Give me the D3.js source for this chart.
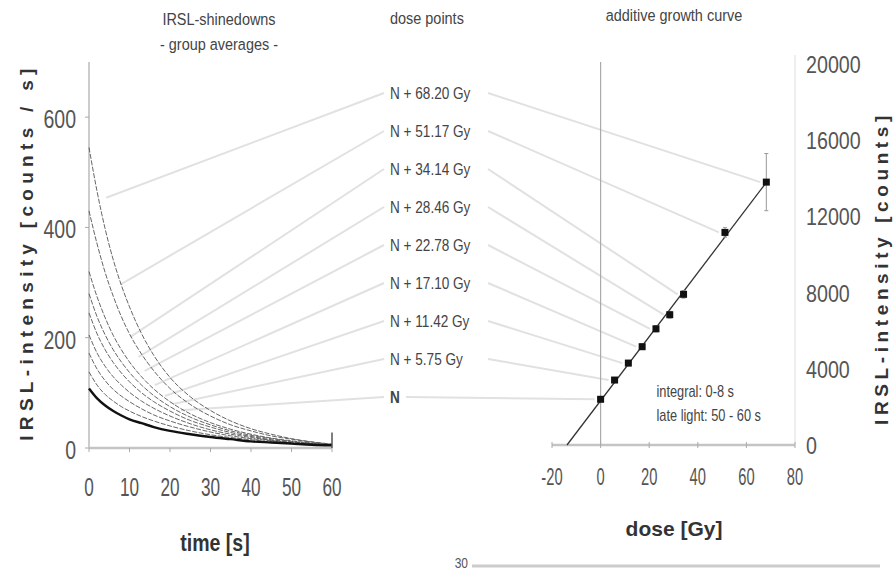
<!DOCTYPE html>
<html><head><meta charset="utf-8">
<script src="https://cdn.jsdelivr.net/npm/d3@7"></script>
<style>
body{margin:0;background:#fff;}
svg{display:block;}
text{font-family:"Liberation Sans",Arial,sans-serif;}
</style></head>
<body>
<svg id="c" width="894" height="570"></svg>
<script>
// ---------- data ----------
const times = [0, 2, 4, 6, 8, 10, 13, 16, 20, 25, 30, 35, 40, 45, 50, 55, 60];
const doseLabels = ["N + 68.20 Gy","N + 51.17 Gy","N + 34.14 Gy","N + 28.46 Gy","N + 22.78 Gy","N + 17.10 Gy","N + 11.42 Gy","N + 5.75 Gy","N"];
const doses = [68.20, 51.17, 34.14, 28.46, 22.78, 17.10, 11.42, 5.75, 0];
const shine_68 = [545,465,397,341,295,256,207,168,128,93,68,49,35,25,17,11,7];
const shine_51 = [430,370,318,275,238,207,170,140,108,79,58,42,31,22,16,11,7];
const shine_34 = [320,274,236,204,178,156,129,107,84,62,46,34,25,18,13,9,6];
const shine_28 = [280,238,205,178,156,137,114,95,75,56,42,31,23,17,12,8,6];
const shine_22 = [245,207,178,155,136,120,100,84,67,50,38,28,21,15,11,8,5];
const shine_17 = [205,172,148,129,114,101,85,72,58,44,33,25,19,14,10,7,5];
const shine_11 = [172,143,122,106,94,84,71,60,49,38,29,22,17,13,9,7,5];
const shine_5  = [138,114,97,85,75,67,57,49,40,31,24,19,15,11,8,6,5];
const shine_N  = [108,90,77,67,59,52,45,38,31,25,20,16,12,10,8,6,5];
const shineSeries = [shine_68, shine_51, shine_34, shine_28, shine_22, shine_17, shine_11, shine_5, shine_N];
const intensity = [13800, 11160, 7910, 6840, 6100, 5160, 4300, 3410, 2400];
const intensityErr = [1500, 250, 200, 180, 160, 150, 140, 130, 120];
const timeTicks = [0,10,20,30,40,50,60];
const leftYTicks = [0,200,400,600];
const doseTicks = [-20,0,20,40,60,80];
const rightYTicks = [0,4000,8000,12000,16000,20000];
const connectTime = [3.5, 7, 9.5, 11.5, 13, 15.5, 18, 20, 22];

// ---------- layout ----------
const svg = d3.select("#c");
const xL = d3.scaleLinear().domain([0,60]).range([89,332]);
const yL = d3.scaleLinear().domain([0,700]).range([448,62]);
const xR = d3.scaleLinear().domain([-20,80]).range([552,795]);
const yR = d3.scaleLinear().domain([0,20000]).range([445,64]);
const labelX = 390, labelY = d3.scaleLinear().domain([0,8]).range([93,397]);

const tickCol = "#555";
function ctext(x, y, str, size, sx, anchor, fill, weight){
  const g = svg.append("g").attr("transform",`translate(${x},${y}) scale(${sx},1)`);
  return g.append("text").attr("text-anchor",anchor||"start").attr("font-size",size)
    .attr("fill",fill||tickCol).attr("font-weight",weight||null).text(str);
}

// connector lines (behind)
const gConn = svg.append("g");
shineSeries.forEach((s,i)=>{
  const t = connectTime[i];
  const v = d3.scaleLinear().domain(times).range(s)(t);
  gConn.append("line").attr("x1",xL(t)+3).attr("y1",yL(v)-22).attr("x2",labelX-6).attr("y2",labelY(i))
    .attr("stroke","#e1e1e1").attr("stroke-width",2);
  gConn.append("line").attr("x1",labelX+ (i===8?16:98)).attr("y1",labelY(i)).attr("x2",xR(doses[i])-6).attr("y2",yR(intensity[i]))
    .attr("stroke","#e1e1e1").attr("stroke-width",2);
});

// ---------- left panel ----------
svg.append("line").attr("x1",xL(0)).attr("x2",xL(0)).attr("y1",yL(700)).attr("y2",yL(0)).attr("stroke","#aaa").attr("stroke-width",1.2);
svg.append("line").attr("x1",xL(0)).attr("x2",xL(60)).attr("y1",yL(0)).attr("y2",yL(0)).attr("stroke","#c4c4c4").attr("stroke-width",2.5);
timeTicks.forEach(t=>{
  svg.append("line").attr("x1",xL(t)).attr("x2",xL(t)).attr("y1",yL(0)).attr("y2",yL(0)+4).attr("stroke","#aaa");
  ctext(xL(t), yL(0)+48, t, 26, 0.66, "middle");
});
leftYTicks.forEach(v=>{
  svg.append("line").attr("x1",xL(0)-4).attr("x2",xL(0)).attr("y1",yL(v)).attr("y2",yL(v)).attr("stroke","#aaa");
  ctext(xL(0)-13, yL(v)+11, v, 25, 0.78, "end");
});
const line = d3.line().x((d,i)=>xL(times[i])).y(d=>yL(d)).curve(d3.curveMonotoneX);
shineSeries.forEach((s,i)=>{
  svg.append("path").attr("d",line(s)).attr("fill","none")
    .attr("stroke", i===8 ? "#111" : "#555").attr("stroke-width", i===8 ? 2.4 : 0.9)
    .attr("stroke-dasharray", i===8 ? null : "5,1.5");
});
svg.append("line").attr("x1",xL(60)).attr("x2",xL(60)).attr("y1",yL(0)).attr("y2",yL(28)).attr("stroke","#555").attr("stroke-width",1.5);

ctext(219, 25, "IRSL-shinedowns", 17, 0.85, "middle", "#444");
ctext(219, 50, "- group averages -", 17, 0.85, "middle", "#444");
ctext(215, 551, "time [s]", 23, 0.85, "middle", "#333", "bold");
svg.append("text").attr("transform",`translate(33,252) rotate(-90)`).attr("text-anchor","middle")
  .attr("font-size",19).attr("font-weight","bold").attr("fill","#333").attr("letter-spacing",5.3).text("IRSL-intensity [counts / s]");

// ---------- dose labels ----------
ctext(labelX, 24, "dose points", 17, 0.85, "start", "#444");
doseLabels.forEach((l,i)=>{
  ctext(labelX, labelY(i)+6, l, 17, 0.8, "start", "#444", i===8?"bold":null);
});

// ---------- right panel ----------
svg.append("line").attr("x1",xR(-20)).attr("x2",xR(80)).attr("y1",yR(0)).attr("y2",yR(0)).attr("stroke","#c4c4c4").attr("stroke-width",2.5);
svg.append("line").attr("x1",xR(0)).attr("x2",xR(0)).attr("y1",62).attr("y2",yR(0)).attr("stroke","#aaa").attr("stroke-width",1.2);
svg.append("line").attr("x1",xR(80)).attr("x2",xR(80)).attr("y1",55).attr("y2",yR(0)).attr("stroke","#ddd").attr("stroke-width",1);
doseTicks.forEach(d=>{
  svg.append("line").attr("x1",xR(d)).attr("x2",xR(d)).attr("y1",yR(0)-3).attr("y2",yR(0)+3).attr("stroke","#aaa");
  ctext(xR(d), yR(0)+40, d, 23, 0.64, "middle");
});
rightYTicks.forEach(v=>{
  ctext(xR(80)+11, yR(v)+9, v, 24, 0.82, "start");
});
// regression
const mx = d3.mean(doses), my = d3.mean(intensity);
const slope = d3.sum(doses.map((d,i)=>(d-mx)*(intensity[i]-my))) / d3.sum(doses.map(d=>(d-mx)*(d-mx)));
const icpt = my - slope*mx;
const x0 = -icpt/slope;
svg.append("line").attr("x1",xR(x0)).attr("y1",yR(0)).attr("x2",xR(d3.max(doses))).attr("y2",yR(icpt+slope*d3.max(doses)))
  .attr("stroke","#333").attr("stroke-width",1.3);
doses.forEach((d,i)=>{
  const e = intensityErr[i];
  svg.append("line").attr("x1",xR(d)).attr("x2",xR(d)).attr("y1",yR(intensity[i]-e)).attr("y2",yR(intensity[i]+e)).attr("stroke","#999");
  [intensity[i]-e, intensity[i]+e].forEach(v=>svg.append("line").attr("x1",xR(d)-2).attr("x2",xR(d)+2).attr("y1",yR(v)).attr("y2",yR(v)).attr("stroke","#999"));
  svg.append("rect").attr("x",xR(d)-3.5).attr("y",yR(intensity[i])-3.5).attr("width",7).attr("height",7).attr("fill","#111");
});
ctext(xR(23), yR(2850)+6, "integral: 0-8 s", 16, 0.8, "start", "#444");
ctext(xR(23), yR(1600)+6, "late light: 50 - 60 s", 16, 0.8, "start", "#444");
ctext(674, 21, "additive growth curve", 17, 0.85, "middle", "#444");
svg.append("text").attr("x",674).attr("y",536).attr("text-anchor","middle").attr("font-size",21).attr("font-weight","bold").attr("fill","#333").text("dose [Gy]");
svg.append("text").attr("transform",`translate(888,268) rotate(-90)`).attr("text-anchor","middle")
  .attr("font-size",19).attr("font-weight","bold").attr("fill","#333").attr("letter-spacing",4.6).text("IRSL-intensity [counts]");

// bottom fragment
ctext(468, 568, "30", 15, 0.8, "end", "#555");
svg.append("line").attr("x1",472).attr("x2",880).attr("y1",566).attr("y2",566).attr("stroke","#ccc").attr("stroke-width",3);
</script>
</body></html>
